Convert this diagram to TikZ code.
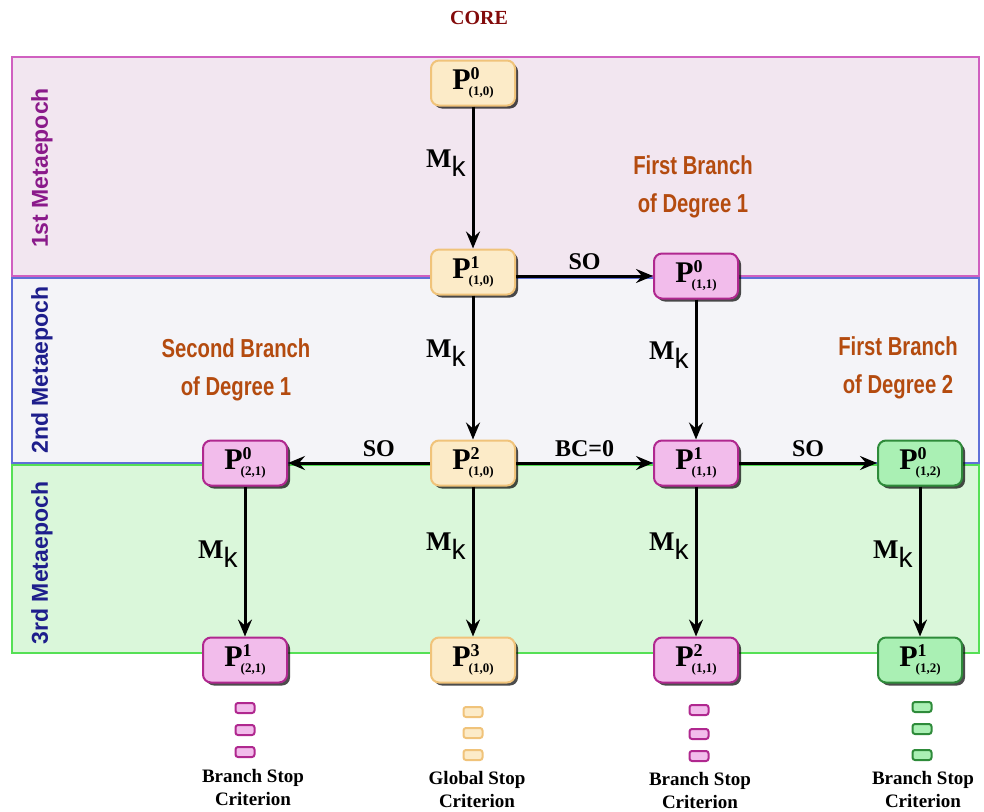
\documentclass[tikz,border=0pt]{standalone}
\usepackage{fontspec}
\setmainfont{Liberation Serif}
\setsansfont{Liberation Sans}
\newfontfamily\narrowsf[FakeStretch=0.78]{Liberation Sans}
\usetikzlibrary{arrows.meta,shadows}

\definecolor{corered}{RGB}{130,10,10}
\definecolor{branchcol}{RGB}{180,75,15}
\definecolor{epone}{RGB}{138,26,138}
\definecolor{eptwo}{RGB}{30,30,140}
\definecolor{yelfill}{RGB}{252,235,200}
\definecolor{yelline}{RGB}{240,195,122}
\definecolor{pinkfill}{RGB}{242,188,235}
\definecolor{pinkline}{RGB}{176,40,143}
\definecolor{grnfill}{RGB}{170,240,180}
\definecolor{grnline}{RGB}{46,139,58}
\definecolor{bandafill}{RGB}{242,230,240}
\definecolor{bandaline}{RGB}{208,96,192}
\definecolor{bandbfill}{RGB}{244,244,248}
\definecolor{bandbline}{RGB}{96,112,216}
\definecolor{bandcfill}{RGB}{218,247,218}
\definecolor{bandcline}{RGB}{85,224,85}

% population node text
\newcommand{\pp}[2]{\textbf{P}\rlap{\raisebox{10pt}{\fontsize{18}{18}\selectfont\bfseries #1}}\kern-2pt\raisebox{-6pt}{\fontsize{13}{13}\selectfont\bfseries(#2)}}
\newcommand{\mkl}{\textbf{M}\raisebox{-9pt}{\fontsize{28}{28}\selectfont\sffamily k}}

\tikzset{
  pbox/.style={rounded corners=8pt, line width=2pt, minimum width=84pt, minimum height=45pt, inner sep=0pt,
    font=\fontsize{30}{30}\selectfont,
    drop shadow={shadow xshift=3pt, shadow yshift=-3pt, fill=black, opacity=.7}},
  yelbox/.style={pbox, fill=yelfill, draw=yelline},
  pinkbox/.style={pbox, fill=pinkfill, draw=pinkline},
  grnbox/.style={pbox, fill=grnfill, draw=grnline},
  stopbox/.style={rounded corners=2.5pt, line width=2pt, minimum width=19pt, minimum height=10pt, inner sep=0pt},
  yelstop/.style={stopbox, fill=yelfill, draw=yelline},
  pinkstop/.style={stopbox, fill=pinkfill, draw=pinkline},
  grnstop/.style={stopbox, fill=grnfill, draw=grnline},
  flow/.style={-{Stealth[length=17pt,width=14pt,inset=6pt]}, line width=3pt},
  oplbl/.style={font=\fontsize{24}{24}\selectfont\bfseries, inner sep=2pt},
  mklbl/.style={font=\fontsize{27}{27}\selectfont, inner sep=2pt},
  branch/.style={align=center, text=branchcol, font=\fontsize{26}{38}\selectfont\narrowsf\bfseries},
  epoch/.style={rotate=90, font=\fontsize{23}{23}\selectfont\sffamily\bfseries},
  stoplbl/.style={align=center, font=\fontsize{19}{23}\selectfont\bfseries},
  band/.style={line width=2pt}
}

\begin{document}
\begin{tikzpicture}[x=1pt,y=-1pt]
\useasboundingbox (0,0) rectangle (984,811);

% metaepoch bands
\draw[band, fill=bandafill, draw=bandaline] (12,57) rectangle (979,276);
\draw[band, fill=bandbfill, draw=bandbline] (12,278) rectangle (979,463);
\draw[band, fill=bandcfill, draw=bandcline] (12,465) rectangle (979,653);

\node[font=\fontsize{20}{20}\selectfont\bfseries, text=corered] (core) at (479,18) {CORE};

\node[epoch, text=epone] (epa) at (42,168) {1st Metaepoch};
\node[epoch, text=eptwo] (epb) at (42,370) {2nd Metaepoch};
\node[epoch, text=eptwo] (epc) at (42,563) {3rd Metaepoch};

\node[branch] (brone) at (693,187) {First Branch\\of Degree 1};
\node[branch] (brtwo) at (236,370) {Second Branch\\of Degree 1};
\node[branch] (brthree) at (898,368) {First Branch\\of Degree 2};

% populations
\node[yelbox] (pa0) at (473,83) {\pp{0}{1,0}};
\node[yelbox] (pa1) at (473,272) {\pp{1}{1,0}};
\node[yelbox] (pa2) at (473,463) {\pp{2}{1,0}};
\node[yelbox] (pa3) at (473,660) {\pp{3}{1,0}};
\node[pinkbox] (pb0) at (696,276) {\pp{0}{1,1}};
\node[pinkbox] (pb1) at (696,463) {\pp{1}{1,1}};
\node[pinkbox] (pb2) at (696,660) {\pp{2}{1,1}};
\node[pinkbox] (pc0) at (245,463) {\pp{0}{2,1}};
\node[pinkbox] (pc1) at (245,660) {\pp{1}{2,1}};
\node[grnbox] (pd0) at (920,463) {\pp{0}{1,2}};
\node[grnbox] (pd1) at (920,660) {\pp{1}{1,2}};

\draw[flow] (pa0) -- node[mklbl, pos=.4, left=4pt] {\mkl} (pa1);
\draw[flow] (pa1) -- node[mklbl, pos=.4, left=4pt] {\mkl} (pa2);
\draw[flow] (pa2) -- node[mklbl, pos=.4, left=4pt] {\mkl} (pa3);
\draw[flow] (pb0) -- node[mklbl, pos=.4, left=4pt] {\mkl} (pb1);
\draw[flow] (pb1) -- node[mklbl, pos=.4, left=4pt] {\mkl} (pb2);
\draw[flow] (pc0) -- node[mklbl, pos=.45, left=4pt] {\mkl} (pc1);
\draw[flow] (pd0) -- node[mklbl, pos=.45, left=4pt] {\mkl} (pd1);

\draw[flow] (pb0.west -| pa1.east) -- node[oplbl, above=3pt] {SO} (pb0.west);
\draw[flow] (pa2) -- node[oplbl, pos=.36, above=3pt] {SO} (pc0);
\draw[flow] (pa2) -- node[oplbl, above=3pt] {BC=0} (pb1);
\draw[flow] (pb1) -- node[oplbl, above=3pt] {SO} (pd0);

% stop marks
\node[pinkstop] (sc1) at (245,708) {};
\node[pinkstop] (sc2) at (245,730) {};
\node[pinkstop] (sc3) at (245,752) {};
\node[yelstop] (sa1) at (473,712) {};
\node[yelstop] (sa2) at (473,733) {};
\node[yelstop] (sa3) at (473,755) {};
\node[pinkstop] (sb1) at (699,710) {};
\node[pinkstop] (sb2) at (699,734) {};
\node[pinkstop] (sb3) at (699,756) {};
\node[grnstop] (sd1) at (922,707) {};
\node[grnstop] (sd2) at (922,729) {};
\node[grnstop] (sd3) at (922,755) {};

\node[stoplbl] (stc) at (253,787) {Branch Stop\\Criterion};
\node[stoplbl] (sta) at (477,789) {Global Stop\\Criterion};
\node[stoplbl] (stb) at (700,790) {Branch Stop\\Criterion};
\node[stoplbl] (std) at (923,789) {Branch Stop\\Criterion};

\end{tikzpicture}
\end{document}
